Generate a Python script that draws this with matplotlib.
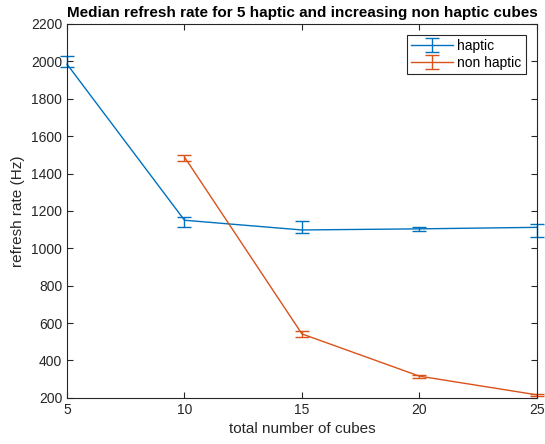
import numpy as np
import matplotlib.pyplot as plt

plt.rcParams['font.family'] = ['Liberation Sans', 'DejaVu Sans']

# total number of cubes
cubes = [5, 10, 15, 20, 25]

# haptic: median refresh rate and lower/upper error
haptic = [1985, 1150, 1098, 1104, 1112]
haptic_lo = [15, 35, 17, 12, 50]
haptic_hi = [45, 20, 48, 12, 16]

# non haptic (starts at 10 cubes)
nonhaptic_x = [10, 15, 20, 25]
nonhaptic = [1488, 542, 316, 216]
nonhaptic_lo = [20, 14, 8, 5]
nonhaptic_hi = [12, 18, 8, 5]

blue = '#0072BD'
orange = '#D95319'
axcol = '#262626'

fig = plt.figure(figsize=(5.45, 4.44), dpi=100)
ax = fig.add_axes([0.123, 0.104, 0.862, 0.842])

ax.errorbar(cubes, haptic, yerr=[haptic_lo, haptic_hi], color=blue, lw=1,
            elinewidth=1, capsize=5, capthick=1, label='haptic', clip_on=False)
ax.errorbar(nonhaptic_x, nonhaptic, yerr=[nonhaptic_lo, nonhaptic_hi], color=orange, lw=1,
            elinewidth=1, capsize=5, capthick=1, label='non haptic', clip_on=False)

ax.set_xlim(5, 25)
ax.set_ylim(200, 2200)
ax.set_xticks(np.arange(5, 26, 5))
ax.set_yticks(np.arange(200, 2201, 200))
ax.tick_params(direction='in', top=True, right=True, labelsize=10, colors=axcol, length=4)
for s in ax.spines.values():
    s.set_color(axcol)
    s.set_linewidth(0.8)

ax.set_xlabel('total number of cubes', fontsize=11, color=axcol)
ax.set_ylabel('refresh rate (Hz)', fontsize=11, color=axcol)
ax.set_title('Median refresh rate for 5 haptic and increasing non haptic cubes',
             fontsize=11, fontweight='bold', pad=5)

leg = ax.legend(loc='upper right', fontsize=10, fancybox=False, framealpha=1,
                borderaxespad=0.8, handlelength=3, borderpad=0.3, labelspacing=0.2,
                handletextpad=0.3)
leg.get_frame().set_edgecolor(axcol)
leg.get_frame().set_linewidth(0.8)

fig.savefig('out.png')
